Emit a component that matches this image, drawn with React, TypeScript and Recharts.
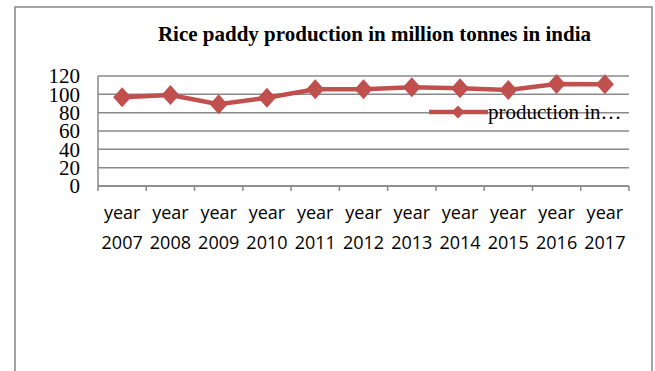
import React from "react";
import { LineChart, Line, XAxis, YAxis, CartesianGrid } from "recharts";

// Paddy output per year (million tonnes)
const years = ["2007", "2008", "2009", "2010", "2011", "2012", "2013", "2014", "2015", "2016", "2017"];
const production = [96.7, 99.3, 89.1, 96.3, 105.5, 105.5, 107.7, 106.6, 104.7, 111.3, 110.9];
const yTicks = [0, 20, 40, 60, 80, 100, 120];
const chartTitle = "Rice paddy production in million tonnes in india";
const seriesName = "production in…";

const data = years.map((y, i) => ({ year: y, value: production[i] }));

const W = 655;
const H = 371;
const PLOT_LEFT = 98;
const PLOT_RIGHT = 629;
const PLOT_TOP = 76;
const PLOT_BOTTOM = 186;
const X_AXIS_H = 70;
const BAND = (PLOT_RIGHT - PLOT_LEFT) / years.length;

const RED = "#C0504D";
const GRID = "#898989";
const SERIF = "'Liberation Serif', 'Times New Roman', serif";
const SANS = "'Open Sans', 'Liberation Sans', sans-serif";

const Diamond = (props: any) => {
  const { cx, cy } = props;
  if (cx == null || cy == null) return null;
  return (
    <polygon
      points={`${cx},${cy - 10} ${cx + 9},${cy} ${cx},${cy + 10} ${cx - 9},${cy}`}
      fill={RED}
    />
  );
};

const XTick = (props: any) => {
  const { x, y, payload, index } = props;
  const last = index === years.length - 1;
  return (
    <g>
      <line x1={x - BAND / 2} y1={y} x2={x - BAND / 2} y2={y + 5} stroke={GRID} strokeWidth={1.5} />
      {last && <line x1={x + BAND / 2} y1={y} x2={x + BAND / 2} y2={y + 5} stroke={GRID} strokeWidth={1.5} />}
      <text x={x} y={y + 33} textAnchor="middle" fontFamily={SANS} fontSize={18} fill="#000">
        year
      </text>
      <text x={x} y={y + 63} textAnchor="middle" fontFamily={SANS} fontSize={18} fill="#000">
        {payload.value}
      </text>
    </g>
  );
};

// Series key, placed over the plot area on the 80 gridline
const SeriesKey = () => (
  <div
    style={{
      position: "absolute",
      left: 429,
      top: 101,
      display: "flex",
      alignItems: "center",
      whiteSpace: "nowrap",
      pointerEvents: "none",
    }}
  >
    <svg width={59} height={16} style={{ display: "block" }}>
      <line x1={0} y1={8} x2={59} y2={8} stroke={RED} strokeWidth={4.5} />
      <polygon points="29,1.5 35.5,8 29,14.5 22.5,8" fill={RED} />
    </svg>
    <span style={{ fontFamily: SERIF, fontSize: 21, color: "#000", lineHeight: "22px" }}>{seriesName}</span>
  </div>
);

export default function App() {
  return (
    <div style={{ position: "absolute", left: 0, top: 0, width: W, height: H, background: "#fff", overflow: "hidden" }}>
      <svg width={W} height={H} style={{ position: "absolute", left: 0, top: 0 }}>
        <path d={`M15,${H + 2} L15,7 L652,7 L652,${H + 2}`} fill="none" stroke="#868686" strokeWidth={1.5} />
        <text x={374.5} y={41} textAnchor="middle" fontFamily={SERIF} fontWeight="bold" fontSize={21} fill="#000">
          {chartTitle}
        </text>
      </svg>
      <div style={{ position: "absolute", left: 0, top: 0 }}>
        <LineChart
          width={W}
          height={H}
          data={data}
          margin={{ top: PLOT_TOP, right: W - PLOT_RIGHT, left: 0, bottom: H - PLOT_BOTTOM - X_AXIS_H }}
        >
          <CartesianGrid vertical={false} stroke={GRID} strokeWidth={1.5} />
          <XAxis
            dataKey="year"
            scale="band"
            height={X_AXIS_H}
            axisLine={{ stroke: GRID, strokeWidth: 1.5 }}
            tickLine={false}
            tickSize={0}
            tickMargin={0}
            interval={0}
            tick={<XTick />}
          />
          <YAxis
            width={PLOT_LEFT}
            domain={[0, 120]}
            ticks={yTicks}
            interval={0}
            axisLine={{ stroke: GRID, strokeWidth: 1.5 }}
            tickLine={false}
            tickSize={6}
            tickMargin={12}
            tick={{ fontFamily: SERIF, fontSize: 21, fill: "#000" }}
          />
          <Line
            type="linear"
            dataKey="value"
            name={seriesName}
            stroke={RED}
            strokeWidth={4.5}
            dot={<Diamond />}
            activeDot={false}
            isAnimationActive={false}
          />
        </LineChart>
      </div>
      <SeriesKey />
    </div>
  );
}
